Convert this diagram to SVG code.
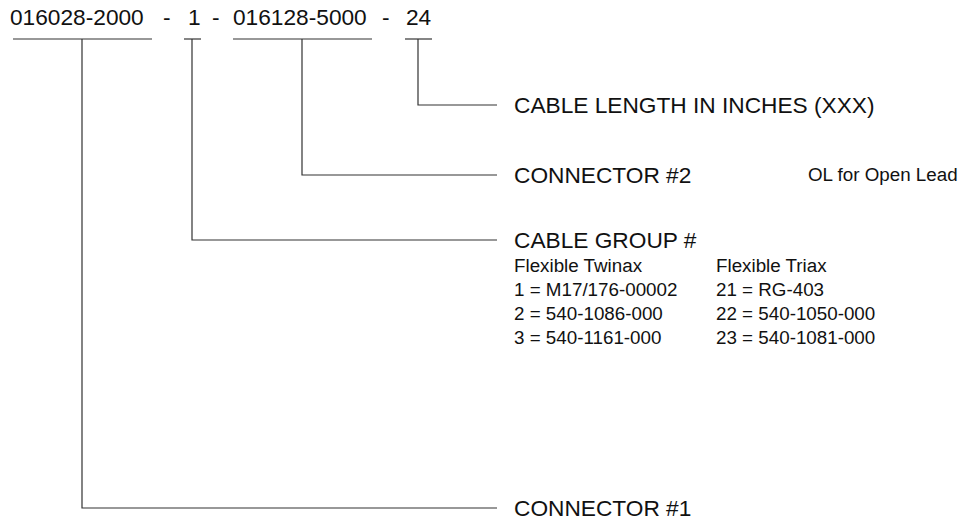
<svg xmlns="http://www.w3.org/2000/svg" width="963" height="523" viewBox="0 0 963 523">
<style>
.t{font-family:"Liberation Sans",Arial,sans-serif;fill:#111}
.big{font-size:22.7px}
.sm{font-size:18.8px}
.ln{stroke:#333;stroke-width:1.2;fill:none}
</style>
<rect width="963" height="523" fill="#fff"/>
<g id="part-number">
<text class="t big" y="25"><tspan x="10">016028-2000</tspan><tspan x="163">-</tspan><tspan x="188">1</tspan><tspan x="212">-</tspan><tspan x="233">016128-5000</tspan><tspan x="382">-</tspan><tspan x="406">24</tspan></text>
<line class="ln" x1="13" y1="39" x2="152" y2="39"/>
<line class="ln" x1="184" y1="39" x2="201" y2="39"/>
<line class="ln" x1="233" y1="39" x2="372" y2="39"/>
<line class="ln" x1="405" y1="39" x2="432" y2="39"/>
</g>
<g id="connectors">
<polyline class="ln" points="418,39 418,105 497,105"/>
<polyline class="ln" points="302,39 302,175 497,175"/>
<polyline class="ln" points="192,39 192,240 497,240"/>
<polyline class="ln" points="82,39 82,508 497,508"/>
</g>
<g id="cable-length">
<text class="t big" x="514" y="113">CABLE LENGTH IN INCHES (XXX)</text>
</g>
<g id="connector-2">
<text class="t big" x="514" y="183">CONNECTOR #2</text>
<text class="t sm" x="808" y="181">OL for Open Lead</text>
</g>
<g id="cable-group">
<text class="t big" x="514" y="248">CABLE GROUP #</text>
<text class="t sm" x="514" y="272">Flexible Twinax</text>
<text class="t sm" x="716" y="272">Flexible Triax</text>
<text class="t sm" x="514" y="296">1 = M17/176-00002</text>
<text class="t sm" x="716" y="296">21 = RG-403</text>
<text class="t sm" x="514" y="320">2 = 540-1086-000</text>
<text class="t sm" x="716" y="320">22 = 540-1050-000</text>
<text class="t sm" x="514" y="344">3 = 540-1161-000</text>
<text class="t sm" x="716" y="344">23 = 540-1081-000</text>
</g>
<g id="connector-1">
<text class="t big" x="514" y="516">CONNECTOR #1</text>
</g>
</svg>
